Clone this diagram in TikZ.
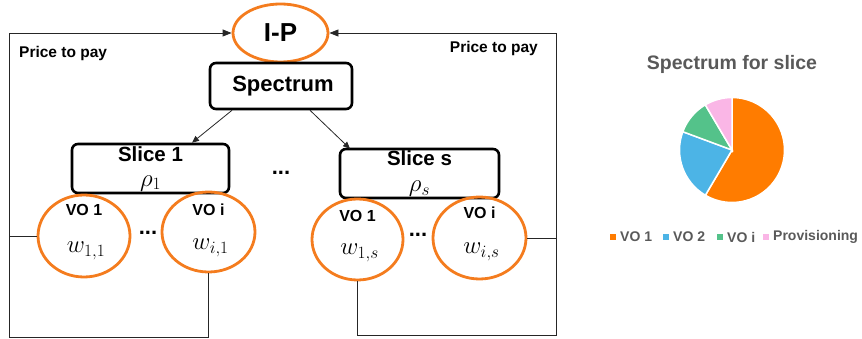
\documentclass[tikz,border=0pt]{standalone}
\usepackage{fontspec}
\setmainfont{Liberation Sans}
\usetikzlibrary{shapes.geometric,arrows.meta,calc}
\definecolor{eorange}{RGB}{244,124,30}
\definecolor{porange}{RGB}{255,124,0}
\definecolor{pblue}{RGB}{76,180,230}
\definecolor{pgreen}{RGB}{84,194,138}
\definecolor{ppink}{RGB}{250,182,230}
\definecolor{tgray}{RGB}{89,89,89}
\tikzset{
  oval/.style={ellipse, draw=eorange, line width=2.8pt, inner sep=0pt},
  boxnode/.style={draw=black, line width=2.6pt, rounded corners=6pt, inner sep=0pt, align=center},
  conn/.style={draw=black!85, line width=0.8pt},
  tip/.style={-{Triangle[length=9pt,width=7pt]}},
  smalltip/.style={-{Triangle[length=7pt,width=6pt]}},
  lbl/.style={font=\fontsize{16}{18}\selectfont\bfseries},
  wlbl/.style={font=\fontsize{23}{25}\selectfont},
  dots/.style={font=\fontsize{22}{24}\selectfont\bfseries},
  legtxt/.style={font=\fontsize{14}{16}\selectfont\bfseries, text=tgray, anchor=west, inner sep=0pt},
  legsq/.style={minimum size=6.5pt, inner sep=0pt}
}
\begin{document}
\begin{tikzpicture}[x=1pt,y=-1pt]
\useasboundingbox (0,0) rectangle (862,339);
% top
\node[oval, minimum width=95pt, minimum height=58pt, font=\fontsize{26}{28}\selectfont\bfseries] (ip) at (280.5,33) {I-P};
\node[boxnode, minimum width=142pt, minimum height=46pt, font=\fontsize{22}{24}\selectfont\bfseries] (sp) at (281,86) {\hspace{4pt}Spectrum};
% slices
\node[boxnode, minimum width=157pt, minimum height=49pt, font=\fontsize{20.5}{25}\selectfont] (s1) at (150.5,168.5) {\textbf{Slice 1}\\\fontsize{23}{25}\selectfont$\rho_1$};
\node[boxnode, minimum width=159pt, minimum height=49pt, font=\fontsize{20.5}{26}\selectfont] (ss) at (419.5,173.5) {\textbf{Slice s}\\\fontsize{23}{26}\selectfont$\rho_s$};
\node[dots] (d0) at (281,173) {...};
% VO ellipses
\node[oval, minimum width=92pt, minimum height=82pt] (v11) at (84,236) {};
\node[oval, minimum width=93pt, minimum height=80pt] (v1i) at (208.5,232) {};
\node[oval, minimum width=91pt, minimum height=81pt] (v1s) at (357.5,239.5) {};
\node[oval, minimum width=93pt, minimum height=82pt] (vis) at (479.5,238) {};
\node[lbl] (t11) at ([yshift=26pt]v11.center) {VO 1};
\node[wlbl] (w11) at ([xshift=2pt,yshift=-15pt]v11.center) {$w_{1,1}$};
\node[lbl] (t1i) at ([yshift=22pt]v1i.center) {VO i};
\node[wlbl] (w1i) at ([xshift=2pt,yshift=-16pt]v1i.center) {$w_{i,1}$};
\node[lbl] (t1s) at ([yshift=24pt]v1s.center) {VO 1};
\node[wlbl] (w1s) at ([xshift=2pt,yshift=-13pt]v1s.center) {$w_{1,s}$};
\node[lbl] (tis) at ([yshift=25pt]vis.center) {VO i};
\node[wlbl] (wis) at ([xshift=2pt,yshift=-14pt]vis.center) {$w_{i,s}$};
\node[dots] (d1) at (148,233) {...};
\node[dots] (d2) at (418,235) {...};
% price labels
\node[font=\fontsize{15.5}{17}\selectfont\bfseries, anchor=west, inner sep=0pt] (pl) at (19,53) {Price to pay};
\node[font=\fontsize{15.5}{17}\selectfont\bfseries, anchor=east, inner sep=0pt] (pr) at (538,48) {Price to pay};
% loop coordinates
\coordinate (cBL) at (9,337);
\coordinate (cBR) at (556,335);
\draw[conn, tip] (v1i.south) |- (cBL) |- (ip.west);
\draw[conn] (v11.west) -- (v11.west -| cBL);
\draw[conn, tip] (v1s.south) |- (cBR) |- (ip.east);
\draw[conn] (vis.east) -- (vis.east -| cBR);
% spectrum arrows
\draw[conn, smalltip] ([xshift=-49pt]sp.south) -- ([xshift=41.5pt]s1.north);
\draw[conn, smalltip] ([xshift=29pt]sp.south) -- ([xshift=-69.5pt,yshift=-1pt]ss.north);
% pie chart
\node[font=\fontsize{19.5}{21}\selectfont\bfseries, text=tgray] (title) at (732,64) {Spectrum for slice};
\begin{scope}[shift={(732,150)}, yscale=-1]
  \fill[porange, draw=white, line width=1.5pt] (0,0) -- (-120.5:52.5) arc[start angle=-120.5, end angle=90, radius=52.5] -- cycle;
  \fill[pblue, draw=white, line width=1.5pt] (0,0) -- (159.6:52.5) arc[start angle=159.6, end angle=239.5, radius=52.5] -- cycle;
  \fill[pgreen, draw=white, line width=1.5pt] (0,0) -- (120.6:52.5) arc[start angle=120.6, end angle=159.6, radius=52.5] -- cycle;
  \fill[ppink, draw=white, line width=1.5pt] (0,0) -- (90:52.5) arc[start angle=90, end angle=120.6, radius=52.5] -- cycle;
\end{scope}
% legend
\node[legsq, fill=porange] (q1) at (613,237) {};
\node[legtxt] (l1) at (620,237) {VO 1};
\node[legsq, fill=pblue] (q2) at (666,237) {};
\node[legtxt] (l2) at (673,237) {VO 2};
\node[legsq, fill=pgreen] (q3) at (720,237) {};
\node[legtxt] (l3) at (727,237) {VO i};
\node[legsq, fill=ppink] (q4) at (766,237) {};
\node[legtxt] (l4) at (773,237) {Provisioning};
\end{tikzpicture}
\end{document}
